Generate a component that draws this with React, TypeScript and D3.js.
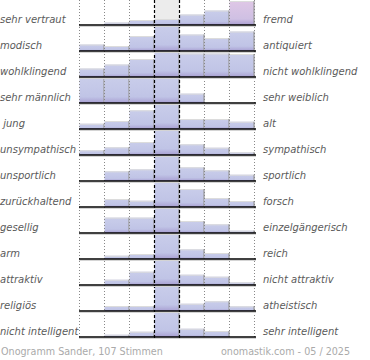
import React, { useEffect, useRef } from "react";
import * as d3 from "d3";

const leftLabels = [
  "sehr vertraut",
  "modisch",
  "wohlklingend",
  "sehr männlich",
  " jung",
  "unsympathisch",
  "unsportlich",
  "zurückhaltend",
  "gesellig",
  "arm",
  "attraktiv",
  "religiös",
  "nicht intelligent"
];

const rightLabels = [
  "fremd",
  "antiquiert",
  "nicht wohlklingend",
  "sehr weiblich",
  "alt",
  "sympathisch",
  "sportlich",
  "forsch",
  "einzelgängerisch",
  "reich",
  "nicht attraktiv",
  "atheistisch",
  "sehr intelligent"
];

// 7 steps per scale (bar height, full = 25)
const rowValues = [
  [0, 2.5, 5, 6, 10.5, 14.5, 24],
  [6.5, 5, 15, 26, 16.5, 13, 19.5],
  [8.5, 12.5, 18, 26, 23.5, 23.5, 23],
  [26, 26, 26, 26, 9.4, 0, 0],
  [5.3, 8, 18.7, 26, 10, 10, 7.3],
  [4.7, 7.7, 13, 26, 10.7, 7.3, 2.7],
  [0, 9.7, 11.7, 26, 13.7, 10.7, 6.3],
  [0, 8, 6.3, 26, 18, 9, 6],
  [0, 15.4, 15.4, 26, 12, 8.7, 2.4],
  [0, 3.3, 5, 26, 9.7, 6, 0],
  [0, 5.3, 13.3, 26, 10.3, 8.3, 2.7],
  [0, 5, 5, 26, 7.3, 9.7, 4.7],
  [0, 2.3, 5.3, 26, 8.3, 6, 0]
];

const steps = [0, 1, 2, 3, 4, 5, 6];
const footerLeft = "Onogramm Sander, 107 Stimmen";
const footerRight = "onomastik.com - 05 / 2025";

export default function App() {
  const ref = useRef<SVGSVGElement>(null);

  useEffect(() => {
    const width = 370;
    const height = 360;
    const svg = d3.select(ref.current);
    svg.selectAll("*").remove();
    svg.attr("width", width).attr("height", height);

    const defs = svg.append("defs");
    const blue = defs.append("linearGradient").attr("id", "barBlue").attr("x1", 0).attr("y1", 0).attr("x2", 0).attr("y2", 1);
    blue.append("stop").attr("offset", "0%").attr("stop-color", "#c9cdea");
    blue.append("stop").attr("offset", "75%").attr("stop-color", "#c0c4e6");
    blue.append("stop").attr("offset", "100%").attr("stop-color", "#a89fd2");
    const pink = defs.append("linearGradient").attr("id", "barPink").attr("x1", 0).attr("y1", 0).attr("x2", 0).attr("y2", 1);
    pink.append("stop").attr("offset", "0%").attr("stop-color", "#dfc7e6");
    pink.append("stop").attr("offset", "75%").attr("stop-color", "#cfc0e3");
    pink.append("stop").attr("offset", "100%").attr("stop-color", "#ab9fd3");

    const x = d3.scaleBand<number>().domain(steps).range([79.5, 254.5]).padding(0);
    const y = d3.scaleBand<number>().domain(d3.range(rowValues.length)).range([0, 338]).padding(0);
    const h = d3.scaleLinear().domain([0, 25]).range([0, 25]).clamp(true);
    const bw = x.bandwidth();
    const rowH = y.bandwidth();
    const base = (i: number) => y(i)! + rowH - 1;

    // neutral column background
    svg.append("g")
      .selectAll("rect")
      .data(d3.range(rowValues.length))
      .join("rect")
      .attr("x", x(3)!)
      .attr("y", i => base(i) - 25)
      .attr("width", bw)
      .attr("height", 25)
      .attr("fill", "#ececec");

    const rows = svg.append("g")
      .selectAll("g")
      .data(rowValues)
      .join("g");

    const bars = rows.selectAll("g")
      .data((vals, i) => vals.map((v, j) => ({ v, j, i })))
      .join("g")
      .filter(d => h(d.v) > 0);

    bars.append("rect")
      .attr("x", d => x(d.j)!)
      .attr("y", d => base(d.i) - h(d.v))
      .attr("width", bw)
      .attr("height", d => h(d.v))
      .attr("fill", d => (d.i === 0 && d.j === 6 ? "url(#barPink)" : "url(#barBlue)"));

    bars.append("line")
      .attr("x1", d => x(d.j)!)
      .attr("x2", d => x(d.j)! + bw)
      .attr("y1", d => base(d.i) - h(d.v) + 0.5)
      .attr("y2", d => base(d.i) - h(d.v) + 0.5)
      .attr("stroke", "#dcdcdc")
      .attr("stroke-width", 1);

    bars.append("line")
      .attr("x1", d => x(d.j)! + bw - 0.5)
      .attr("x2", d => x(d.j)! + bw - 0.5)
      .attr("y1", d => base(d.i) - h(d.v))
      .attr("y2", d => base(d.i))
      .attr("stroke", "#9a9a9a")
      .attr("stroke-width", 1.2);

    // vertical grid
    const gridX = [0, 1, 2, 5, 6].map(j => x(j)!).concat([x(6)! + bw]);
    svg.append("g")
      .selectAll("line")
      .data(gridX)
      .join("line")
      .attr("x1", d => d)
      .attr("x2", d => d)
      .attr("y1", 0)
      .attr("y2", 338)
      .attr("stroke", "#888")
      .attr("stroke-width", 1)
      .attr("stroke-dasharray", "1,2");

    svg.append("g")
      .selectAll("line")
      .data([x(3)!, x(4)!])
      .join("line")
      .attr("x1", d => d)
      .attr("x2", d => d)
      .attr("y1", 0)
      .attr("y2", 338)
      .attr("stroke", "#000")
      .attr("stroke-width", 1.2)
      .attr("stroke-dasharray", "3,2");

    // baselines
    const baseG = svg.append("g").selectAll("g").data(d3.range(rowValues.length)).join("g");
    baseG.append("line")
      .attr("x1", 79)
      .attr("x2", 256)
      .attr("y1", i => base(i) + 1.5)
      .attr("y2", i => base(i) + 1.5)
      .attr("stroke", "#d4d4d4")
      .attr("stroke-width", 1);
    baseG.append("line")
      .attr("x1", 79)
      .attr("x2", 256)
      .attr("y1", i => base(i))
      .attr("y2", i => base(i))
      .attr("stroke", "#000")
      .attr("stroke-width", 1.6);

    const labels = svg.append("g")
      .attr("font-family", "DejaVu Sans, sans-serif")
      .attr("font-size", 10)
      .attr("font-style", "italic")
      .attr("fill", "#5a5a5a");

    labels.selectAll("text.left")
      .data(leftLabels)
      .join("text")
      .attr("class", "left")
      .attr("x", 0)
      .attr("y", (d, i) => base(i) - 2.5)
      .style("white-space", "pre")
      .text(d => d);

    labels.selectAll("text.right")
      .data(rightLabels)
      .join("text")
      .attr("class", "right")
      .attr("x", 263)
      .attr("y", (d, i) => base(i) - 2.5)
      .text(d => d);

    const footer = svg.append("g")
      .attr("font-family", "DejaVu Sans, sans-serif")
      .attr("font-size", 9.6)
      .attr("fill", "#aaa");
    footer.append("text").attr("x", 1).attr("y", 355).text(footerLeft);
    footer.append("text").attr("x", 221).attr("y", 355).text(footerRight);
  }, []);

  return (
    <svg
      ref={ref}
      style={{ position: "absolute", left: 0, top: 0, background: "#fff" }}
    />
  );
}
